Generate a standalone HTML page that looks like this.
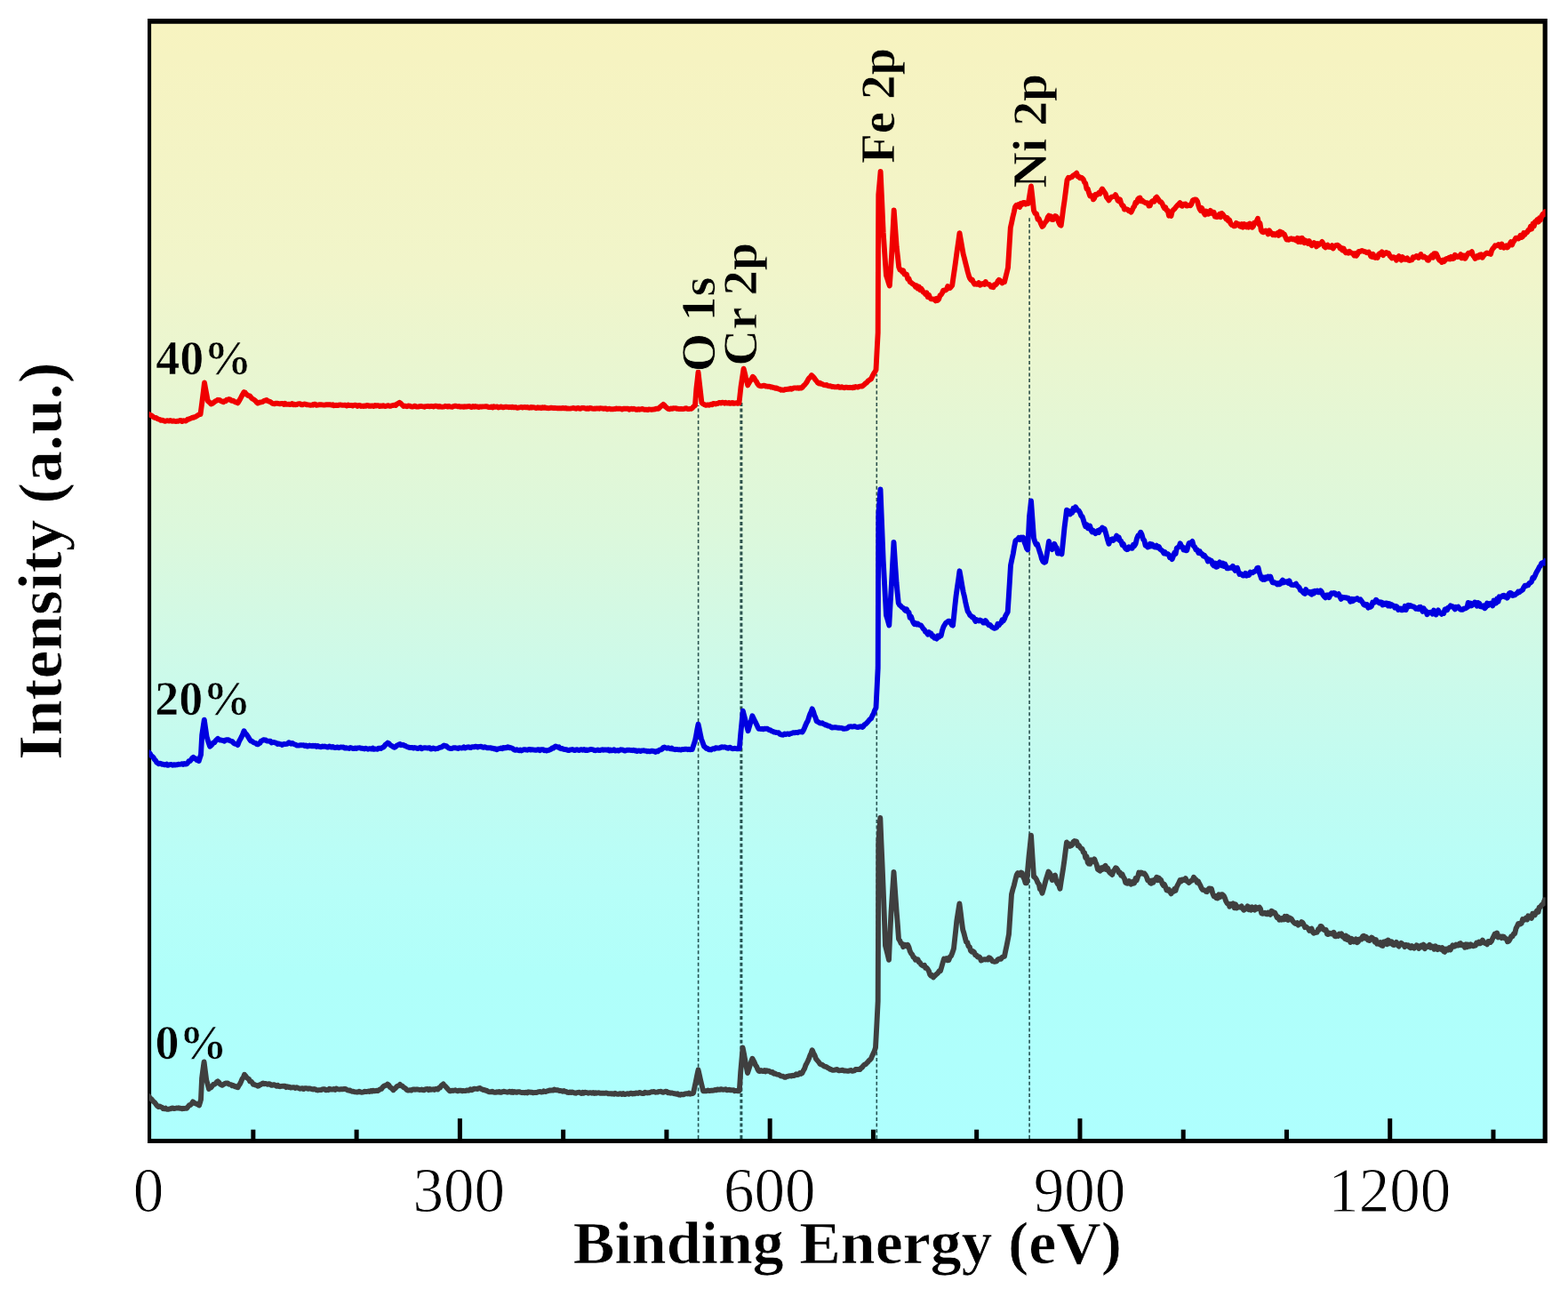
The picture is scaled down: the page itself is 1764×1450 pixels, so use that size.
<!DOCTYPE html>
<html lang="en"><head><meta charset="utf-8"><title>XPS survey spectra</title>
<style>
html,body{margin:0;padding:0;background:#fff;}
body{width:1764px;height:1450px;overflow:hidden;position:relative;}
svg{position:absolute;left:0;top:0;display:block;}
text{font-family:"Liberation Serif",serif;fill:#000;}
.b{font-weight:bold;}
</style></head><body>
<svg width="1764" height="1450" viewBox="0 0 1764 1450">
<defs>
<linearGradient id="bg" gradientUnits="userSpaceOnUse" x1="0" y1="26.85" x2="0" y2="1281.0">
<stop offset="0.0" stop-color="rgb(247,243,192)"/>
<stop offset="0.03" stop-color="rgb(246,243,193)"/>
<stop offset="0.22" stop-color="rgb(241,245,202)"/>
<stop offset="0.457" stop-color="rgb(220,248,220)"/>
<stop offset="0.585" stop-color="rgb(204,250,234)"/>
<stop offset="0.696" stop-color="rgb(190,252,243)"/>
<stop offset="0.775" stop-color="rgb(183,254,248)"/>
<stop offset="0.855" stop-color="rgb(176,255,250)"/>
<stop offset="1.0" stop-color="rgb(174,255,254)"/>
</linearGradient>
<clipPath id="cp"><rect x="167.6" y="26.85" width="1571.0" height="1254.15"/></clipPath>
</defs>
<rect x="0" y="0" width="1764" height="1450" fill="#fff"/>
<rect x="167.0" y="22.05" width="1572.8" height="1262.95" fill="url(#bg)"/>
<line x1="785.6" y1="1281.0" x2="785.6" y2="456" stroke="#002828" stroke-opacity="0.8" stroke-width="1.6" stroke-dasharray="4 2.7"/>
<line x1="833.9" y1="1281.0" x2="833.9" y2="453" stroke="#002828" stroke-opacity="0.8" stroke-width="3.0" stroke-dasharray="4 2.7"/>
<line x1="986.3" y1="1281.0" x2="986.3" y2="421" stroke="#002828" stroke-opacity="0.8" stroke-width="1.6" stroke-dasharray="4 2.7"/>
<line x1="1158.1" y1="1281.0" x2="1158.1" y2="244" stroke="#002828" stroke-opacity="0.8" stroke-width="1.6" stroke-dasharray="4 2.7"/>
<rect x="282.36" y="1270.70" width="5.0" height="11.30" fill="#000"/>
<rect x="398.62" y="1270.70" width="5.0" height="11.30" fill="#000"/>
<rect x="514.88" y="1258.20" width="5.0" height="23.80" fill="#000"/>
<rect x="631.14" y="1270.70" width="5.0" height="11.30" fill="#000"/>
<rect x="747.40" y="1270.70" width="5.0" height="11.30" fill="#000"/>
<rect x="863.66" y="1258.20" width="5.0" height="23.80" fill="#000"/>
<rect x="979.92" y="1270.70" width="5.0" height="11.30" fill="#000"/>
<rect x="1096.18" y="1270.70" width="5.0" height="11.30" fill="#000"/>
<rect x="1212.44" y="1258.20" width="5.0" height="23.80" fill="#000"/>
<rect x="1328.70" y="1270.70" width="5.0" height="11.30" fill="#000"/>
<rect x="1444.96" y="1270.70" width="5.0" height="11.30" fill="#000"/>
<rect x="1561.22" y="1258.20" width="5.0" height="23.80" fill="#000"/>
<rect x="1677.48" y="1270.70" width="5.0" height="11.30" fill="#000"/>
<path fill="#000" fill-rule="evenodd" d="M166.0,21.05H1740.8V1286.0H166.0Z M170.1,26.85V1281.0H1735.6V26.85Z"/>
<g clip-path="url(#cp)" fill="none" stroke-linejoin="round" stroke-linecap="butt">
<path d="M166.5,1232.0 L167.7,1233.4 L168.8,1235.3 L170.0,1236.0 L171.4,1237.6 L172.8,1239.3 L174.2,1240.4 L175.6,1242.4 L177.0,1244.1 L178.3,1245.0 L179.7,1244.5 L181.0,1245.4 L182.3,1245.6 L183.7,1247.2 L185.0,1247.4 L186.3,1246.6 L187.7,1247.9 L189.0,1247.9 L190.3,1247.4 L191.7,1247.3 L193.0,1246.6 L194.3,1246.4 L195.7,1247.1 L197.0,1246.8 L198.3,1246.5 L199.6,1246.6 L200.9,1246.3 L202.2,1246.8 L203.5,1246.8 L204.8,1247.3 L206.1,1246.8 L207.4,1247.0 L208.7,1246.7 L210.0,1246.8 L211.4,1245.1 L212.8,1243.4 L214.2,1242.9 L215.6,1241.4 L217.0,1239.4 L218.5,1240.6 L220.0,1241.4 L221.3,1241.8 L222.7,1242.5 L224.0,1243.5 L225.0,1240.3 L226.0,1237.0 L227.1,1213.0 L228.3,1203.7 L229.6,1194.5 L230.9,1204.8 L232.2,1214.9 L233.6,1219.8 L235.0,1224.9 L236.2,1223.6 L237.5,1223.3 L238.8,1221.5 L240.0,1220.0 L241.2,1219.8 L242.5,1218.9 L243.8,1217.2 L245.0,1216.3 L246.2,1217.4 L247.5,1219.4 L248.8,1220.2 L250.0,1220.8 L251.2,1220.0 L252.5,1219.2 L253.8,1218.5 L255.0,1218.7 L256.2,1218.5 L257.5,1219.6 L258.8,1219.9 L260.0,1220.1 L261.2,1221.3 L262.5,1221.0 L263.8,1222.2 L265.0,1222.0 L266.2,1222.9 L267.5,1223.3 L268.8,1220.8 L270.0,1219.3 L271.2,1216.7 L272.5,1213.6 L273.8,1212.0 L275.0,1208.8 L276.2,1210.2 L277.5,1212.2 L278.8,1213.2 L280.0,1213.8 L281.2,1216.4 L282.5,1216.6 L283.8,1218.0 L285.0,1219.9 L286.2,1220.0 L287.5,1220.6 L288.8,1220.8 L290.0,1221.8 L291.2,1221.4 L292.4,1220.2 L293.6,1220.0 L294.8,1219.0 L296.0,1218.5 L297.3,1219.4 L298.5,1218.9 L299.8,1219.3 L301.1,1219.9 L302.4,1219.2 L303.6,1219.4 L304.9,1220.7 L306.2,1220.8 L307.5,1220.2 L308.7,1220.3 L310.0,1221.1 L311.3,1221.8 L312.6,1220.9 L313.9,1222.1 L315.3,1222.2 L316.6,1221.9 L317.9,1221.8 L319.2,1221.6 L320.5,1221.6 L321.8,1223.1 L323.2,1222.2 L324.5,1223.0 L325.8,1222.6 L327.1,1223.5 L328.4,1223.3 L329.7,1223.1 L331.1,1223.1 L332.4,1224.0 L333.7,1223.2 L335.0,1223.8 L336.3,1224.2 L337.6,1224.7 L338.9,1224.5 L340.3,1224.1 L341.6,1225.1 L342.9,1224.2 L344.2,1224.1 L345.5,1224.5 L346.8,1224.9 L348.2,1224.4 L349.5,1224.7 L350.8,1225.1 L352.1,1225.5 L353.4,1225.0 L354.7,1225.4 L356.1,1226.2 L357.4,1226.5 L358.7,1226.1 L360.0,1226.1 L361.3,1226.1 L362.6,1225.4 L363.9,1225.2 L365.2,1225.1 L366.5,1226.3 L367.9,1225.9 L369.2,1226.2 L370.5,1224.8 L371.8,1225.6 L373.1,1225.4 L374.4,1225.6 L375.7,1225.0 L377.0,1225.9 L378.3,1224.5 L379.6,1225.1 L381.0,1225.3 L382.3,1225.5 L383.6,1225.2 L384.9,1225.1 L386.2,1225.2 L387.5,1224.9 L388.8,1224.9 L390.0,1225.7 L391.2,1226.4 L392.5,1226.7 L393.8,1226.5 L395.0,1227.4 L396.2,1227.9 L397.5,1227.8 L398.8,1228.3 L400.0,1228.4 L401.3,1228.5 L402.6,1228.5 L403.9,1227.7 L405.3,1228.4 L406.6,1228.8 L407.9,1228.6 L409.2,1228.3 L410.5,1227.7 L411.8,1228.1 L413.2,1227.8 L414.5,1227.5 L415.8,1228.0 L417.1,1226.9 L418.4,1227.7 L419.7,1226.7 L421.1,1227.4 L422.4,1227.1 L423.7,1226.7 L425.0,1227.1 L426.4,1226.1 L427.8,1225.3 L429.1,1224.9 L430.5,1223.0 L431.9,1221.8 L433.2,1221.2 L434.6,1220.9 L436.0,1219.5 L437.3,1220.5 L438.6,1222.8 L439.9,1223.7 L441.2,1224.7 L442.5,1226.2 L443.8,1224.7 L445.0,1224.1 L446.2,1222.4 L447.5,1221.7 L448.8,1221.2 L450.0,1219.9 L451.2,1221.3 L452.5,1221.6 L453.8,1223.0 L455.0,1223.6 L456.2,1224.4 L457.5,1226.0 L458.8,1226.5 L460.1,1226.5 L461.4,1226.2 L462.7,1226.6 L464.0,1225.6 L465.3,1225.4 L466.6,1225.8 L467.9,1225.5 L469.2,1225.4 L470.5,1225.7 L471.8,1226.0 L473.1,1225.8 L474.4,1225.5 L475.6,1226.2 L476.9,1226.4 L478.2,1225.6 L479.5,1225.1 L480.8,1225.0 L482.1,1226.2 L483.4,1225.0 L484.7,1225.9 L486.0,1225.7 L487.3,1225.3 L488.6,1226.0 L489.9,1224.9 L491.2,1225.0 L492.5,1225.5 L493.7,1223.7 L495.0,1223.6 L496.2,1221.7 L497.5,1220.4 L498.7,1219.4 L499.9,1221.1 L501.1,1222.1 L502.4,1223.5 L503.6,1224.8 L504.8,1226.2 L506.0,1227.3 L507.3,1227.3 L508.5,1226.6 L509.8,1227.0 L511.1,1226.6 L512.3,1226.3 L513.6,1227.0 L514.9,1227.3 L516.2,1226.6 L517.4,1226.7 L518.7,1226.8 L520.0,1227.3 L521.2,1227.0 L522.5,1227.1 L523.8,1227.1 L525.2,1226.4 L526.5,1226.7 L527.9,1226.6 L529.2,1225.3 L530.6,1226.2 L531.9,1225.7 L533.3,1224.6 L534.6,1224.9 L536.0,1224.9 L537.3,1225.0 L538.7,1224.1 L540.0,1224.0 L541.2,1225.0 L542.5,1225.4 L543.8,1226.1 L545.0,1225.9 L546.2,1226.7 L547.5,1226.6 L548.8,1227.8 L550.0,1228.2 L551.3,1228.2 L552.6,1228.3 L553.9,1227.7 L555.2,1228.6 L556.5,1228.8 L557.8,1228.8 L559.1,1228.2 L560.4,1228.6 L561.7,1227.9 L563.0,1228.8 L564.3,1228.7 L565.7,1228.0 L567.0,1227.7 L568.3,1228.2 L569.6,1228.4 L570.9,1228.7 L572.2,1228.4 L573.5,1227.7 L574.8,1228.8 L576.1,1227.8 L577.4,1228.9 L578.7,1228.0 L580.0,1228.4 L581.3,1228.9 L582.6,1228.1 L583.9,1228.1 L585.2,1228.6 L586.6,1229.0 L587.9,1229.2 L589.2,1229.0 L590.5,1229.4 L591.8,1228.8 L593.1,1229.4 L594.4,1228.3 L595.8,1228.5 L597.1,1228.9 L598.4,1228.6 L599.7,1229.3 L601.0,1229.1 L602.3,1228.9 L603.7,1229.1 L605.0,1228.6 L606.3,1228.1 L607.7,1228.0 L609.0,1228.5 L610.3,1228.4 L611.7,1227.3 L613.0,1228.0 L614.3,1228.0 L615.7,1227.2 L617.0,1227.1 L618.3,1226.4 L619.7,1226.7 L621.0,1226.5 L622.3,1226.5 L623.7,1225.5 L625.0,1226.3 L626.3,1226.3 L627.7,1226.3 L629.0,1227.1 L630.4,1227.0 L631.7,1227.1 L633.1,1227.7 L634.4,1227.0 L635.8,1227.9 L637.1,1228.0 L638.5,1228.9 L639.8,1229.1 L641.2,1228.4 L642.5,1229.0 L643.8,1228.5 L645.1,1229.0 L646.4,1229.5 L647.7,1229.7 L649.0,1229.1 L650.3,1228.9 L651.6,1228.8 L652.9,1229.4 L654.2,1229.9 L655.5,1228.8 L656.8,1229.7 L658.1,1228.7 L659.4,1229.0 L660.7,1229.1 L662.0,1229.7 L663.3,1229.3 L664.6,1229.3 L665.9,1229.7 L667.2,1229.0 L668.5,1229.9 L669.8,1229.1 L671.1,1229.7 L672.4,1229.4 L673.8,1229.3 L675.1,1229.8 L676.4,1229.7 L677.7,1229.7 L679.0,1229.8 L680.3,1229.9 L681.6,1229.5 L682.9,1229.6 L684.2,1230.2 L685.5,1230.2 L686.8,1230.1 L688.1,1230.6 L689.4,1230.3 L690.7,1230.7 L692.0,1229.8 L693.3,1230.6 L694.6,1230.7 L695.9,1230.8 L697.2,1230.1 L698.5,1230.1 L699.8,1231.0 L701.1,1230.0 L702.4,1231.1 L703.7,1231.0 L705.0,1230.3 L706.3,1230.1 L707.6,1230.7 L708.9,1229.9 L710.2,1229.6 L711.4,1230.6 L712.7,1229.9 L714.0,1230.4 L715.3,1229.4 L716.6,1229.7 L717.9,1230.0 L719.2,1229.0 L720.5,1229.2 L721.7,1229.8 L723.0,1230.0 L724.3,1230.0 L725.6,1228.7 L726.9,1229.2 L728.2,1229.5 L729.5,1229.1 L730.8,1229.2 L732.0,1228.5 L733.3,1228.2 L734.6,1228.2 L735.9,1228.0 L737.2,1228.7 L738.5,1228.6 L739.8,1228.6 L741.1,1227.9 L742.3,1227.9 L743.6,1227.8 L744.9,1228.6 L746.2,1228.8 L747.5,1228.2 L748.8,1227.7 L750.2,1227.9 L751.5,1229.4 L752.9,1229.0 L754.2,1229.7 L755.6,1229.4 L756.9,1229.8 L758.3,1230.2 L759.6,1230.3 L761.0,1230.8 L762.3,1230.3 L763.7,1231.5 L765.0,1231.7 L766.2,1230.9 L767.5,1231.1 L768.8,1231.4 L770.0,1230.8 L771.2,1230.3 L772.5,1230.1 L773.8,1230.5 L775.0,1229.6 L776.2,1230.7 L777.5,1230.4 L778.8,1230.1 L780.0,1229.7 L781.4,1223.2 L782.8,1216.6 L784.1,1210.1 L785.5,1203.5 L786.9,1209.5 L788.2,1215.3 L789.6,1221.1 L791.0,1227.2 L792.3,1227.3 L793.7,1227.2 L795.0,1227.2 L796.3,1226.5 L797.7,1227.1 L799.0,1227.0 L800.3,1226.7 L801.7,1226.7 L803.0,1226.6 L804.3,1226.0 L805.7,1226.4 L807.0,1225.4 L808.3,1225.7 L809.7,1225.8 L811.0,1225.1 L812.3,1225.5 L813.7,1225.8 L815.0,1225.6 L816.3,1225.2 L817.6,1226.4 L818.9,1226.1 L820.2,1225.7 L821.5,1226.3 L822.8,1226.3 L824.0,1226.4 L825.3,1226.3 L826.6,1227.2 L827.9,1226.9 L829.2,1227.1 L830.5,1227.3 L831.8,1227.1 L833.2,1205.9 L834.4,1192.3 L835.6,1178.5 L837.0,1185.6 L838.3,1192.7 L839.6,1199.7 L841.0,1207.0 L842.4,1202.8 L843.7,1198.6 L845.0,1194.6 L846.4,1190.7 L847.6,1192.9 L848.8,1195.2 L850.0,1198.3 L851.3,1200.1 L852.5,1203.0 L853.7,1204.8 L855.0,1205.1 L856.2,1204.1 L857.5,1204.8 L858.7,1205.1 L860.0,1204.1 L861.2,1205.3 L862.5,1204.2 L863.7,1204.7 L865.0,1204.7 L866.4,1205.7 L867.7,1206.3 L869.0,1206.0 L870.4,1207.8 L871.7,1207.5 L873.0,1208.1 L874.4,1208.7 L875.7,1208.9 L877.0,1209.3 L878.4,1210.3 L879.7,1210.6 L881.0,1210.7 L882.4,1211.8 L883.7,1211.9 L885.0,1211.0 L886.4,1210.9 L887.7,1210.3 L889.1,1210.1 L890.4,1210.6 L891.8,1209.7 L893.1,1210.1 L894.4,1209.5 L895.8,1208.2 L897.1,1209.1 L898.5,1208.7 L899.8,1207.1 L901.2,1207.9 L902.5,1207.0 L903.8,1204.2 L905.1,1202.1 L906.4,1198.2 L907.7,1195.8 L909.0,1193.2 L910.2,1190.3 L911.4,1187.0 L912.5,1184.7 L913.7,1181.2 L915.1,1184.5 L916.6,1187.1 L918.0,1191.1 L919.5,1192.9 L921.0,1194.6 L922.5,1196.7 L923.8,1197.6 L925.0,1197.7 L926.2,1198.7 L927.5,1199.6 L928.8,1199.9 L930.0,1200.3 L931.2,1201.3 L932.5,1201.7 L933.8,1202.8 L935.0,1203.0 L936.3,1203.8 L937.7,1203.9 L939.0,1203.7 L940.3,1203.1 L941.7,1203.0 L943.0,1204.2 L944.3,1204.2 L945.7,1204.1 L947.0,1203.8 L948.3,1203.8 L949.7,1204.5 L951.0,1204.5 L952.3,1204.6 L953.7,1204.8 L955.0,1204.8 L956.2,1204.1 L957.5,1204.0 L958.8,1204.9 L960.0,1204.6 L961.2,1204.4 L962.5,1203.0 L963.8,1202.9 L965.0,1203.0 L966.2,1203.1 L967.5,1203.1 L968.8,1201.2 L970.0,1200.7 L971.2,1198.8 L972.5,1197.6 L973.8,1197.2 L975.0,1195.9 L976.2,1194.8 L977.5,1193.2 L978.8,1192.2 L980.0,1190.8 L981.2,1187.7 L982.5,1185.1 L983.8,1182.1 L985.0,1178.4 L986.4,1152.0 L987.7,1126.1 L988.0,1051.0 L988.3,947.1 L989.3,933.3 L990.3,920.0 L991.4,946.8 L992.6,974.2 L993.7,1001.0 L994.9,1032.4 L996.0,1063.7 L997.3,1068.8 L998.7,1074.3 L1000.0,1079.8 L1001.2,1053.2 L1002.5,1026.0 L1004.0,1003.4 L1005.5,980.9 L1007.1,1003.8 L1008.7,1025.9 L1009.9,1040.7 L1011.0,1056.1 L1012.3,1058.1 L1013.6,1061.1 L1014.9,1061.7 L1016.2,1065.1 L1017.5,1062.7 L1018.7,1063.0 L1020.0,1064.4 L1021.2,1062.8 L1022.5,1065.5 L1023.7,1069.9 L1025.0,1072.5 L1026.2,1073.6 L1027.5,1076.6 L1028.8,1077.5 L1030.0,1079.8 L1031.2,1079.3 L1032.5,1079.2 L1033.8,1082.4 L1035.0,1082.8 L1036.2,1085.0 L1037.5,1086.0 L1038.8,1086.7 L1040.0,1085.9 L1041.2,1088.9 L1042.5,1088.7 L1043.8,1090.4 L1045.0,1092.5 L1046.2,1096.3 L1047.5,1097.8 L1048.8,1097.0 L1050.0,1099.5 L1051.3,1097.9 L1052.7,1096.7 L1054.0,1095.5 L1055.3,1094.3 L1056.7,1092.3 L1058.0,1092.2 L1059.3,1087.7 L1060.7,1082.8 L1062.0,1078.5 L1063.3,1078.9 L1064.7,1078.1 L1066.0,1080.4 L1067.3,1080.2 L1068.7,1076.5 L1070.0,1075.3 L1071.5,1071.6 L1073.0,1067.0 L1074.1,1056.7 L1075.2,1046.7 L1076.3,1036.0 L1077.8,1026.5 L1079.4,1016.4 L1080.7,1026.4 L1081.9,1036.4 L1083.2,1045.9 L1084.5,1050.0 L1085.7,1054.9 L1087.0,1059.6 L1088.2,1059.9 L1089.5,1064.5 L1090.8,1065.1 L1092.0,1069.4 L1093.3,1070.7 L1094.6,1070.1 L1095.9,1071.1 L1097.2,1074.3 L1098.5,1074.4 L1099.8,1076.5 L1101.1,1076.1 L1102.4,1076.9 L1103.7,1080.5 L1105.0,1080.0 L1106.2,1079.3 L1107.5,1079.1 L1108.7,1079.5 L1110.0,1079.1 L1111.2,1079.5 L1112.5,1077.2 L1113.7,1077.7 L1115.0,1079.1 L1116.2,1081.1 L1117.5,1081.5 L1118.8,1081.8 L1120.0,1081.5 L1121.2,1081.3 L1122.5,1079.5 L1123.8,1078.6 L1125.0,1078.8 L1126.2,1078.7 L1127.5,1076.7 L1128.8,1076.2 L1130.0,1075.9 L1131.2,1069.9 L1132.5,1063.9 L1133.8,1057.2 L1135.0,1050.9 L1136.5,1028.2 L1138.0,1006.0 L1139.4,1000.5 L1140.8,995.8 L1142.3,989.6 L1143.7,984.3 L1145.0,982.1 L1146.2,984.2 L1147.5,984.3 L1148.7,981.5 L1150.0,982.2 L1151.2,986.5 L1152.5,989.4 L1153.7,993.4 L1155.0,993.3 L1156.2,978.1 L1157.5,963.4 L1158.8,951.3 L1160.0,939.6 L1161.5,963.1 L1163.0,986.2 L1164.5,987.1 L1166.0,989.4 L1167.5,993.0 L1168.8,994.6 L1170.0,1000.4 L1171.2,1000.9 L1172.5,1004.7 L1173.9,1000.0 L1175.3,994.7 L1176.7,989.5 L1178.1,985.1 L1179.5,980.6 L1180.9,982.0 L1182.3,986.1 L1183.7,990.0 L1184.8,987.7 L1185.9,985.2 L1187.0,984.6 L1188.4,991.4 L1189.8,994.2 L1191.1,995.6 L1192.5,999.7 L1193.7,991.8 L1195.0,983.7 L1196.2,976.2 L1197.5,967.0 L1198.7,957.4 L1200.0,947.5 L1201.2,949.0 L1202.5,949.1 L1203.8,951.9 L1205.0,951.4 L1206.2,950.5 L1207.5,947.1 L1208.8,946.0 L1210.0,946.3 L1211.2,946.8 L1212.5,951.3 L1213.7,950.9 L1215.0,952.9 L1216.2,954.5 L1217.5,954.8 L1218.7,958.7 L1220.0,959.2 L1221.2,964.9 L1222.5,963.4 L1223.7,970.2 L1225.0,971.7 L1226.2,971.9 L1227.5,967.3 L1228.7,967.5 L1230.0,969.1 L1231.2,966.4 L1232.5,969.9 L1233.7,972.7 L1235.0,978.0 L1236.2,978.7 L1237.5,979.7 L1238.7,976.2 L1240.0,978.1 L1241.2,975.5 L1242.5,977.5 L1243.7,973.8 L1245.0,978.2 L1246.2,976.7 L1247.5,980.2 L1248.7,981.9 L1250.0,982.8 L1251.2,984.0 L1252.5,980.0 L1253.7,978.7 L1255.0,976.3 L1256.2,976.8 L1257.5,978.7 L1258.7,981.6 L1260.0,981.4 L1261.2,984.7 L1262.5,983.3 L1263.7,986.4 L1265.0,988.4 L1266.2,992.7 L1267.5,993.6 L1268.7,993.8 L1270.0,991.0 L1271.2,992.9 L1272.5,994.6 L1273.7,992.1 L1275.0,993.8 L1276.2,993.4 L1277.5,988.1 L1278.7,990.4 L1280.0,986.6 L1281.2,981.6 L1282.5,983.0 L1283.7,981.4 L1285.0,982.0 L1286.2,983.0 L1287.5,982.6 L1288.7,984.3 L1290.0,986.6 L1291.2,990.2 L1292.5,990.1 L1293.7,992.9 L1295.0,993.7 L1296.2,990.5 L1297.5,992.7 L1298.7,989.6 L1300.0,989.4 L1301.2,986.8 L1302.5,990.2 L1303.7,987.6 L1305.0,989.1 L1306.2,990.1 L1307.5,993.9 L1308.8,996.1 L1310.0,995.0 L1311.2,997.7 L1312.5,1001.5 L1313.8,1001.8 L1315.0,1000.7 L1316.2,1003.0 L1317.5,1005.3 L1318.8,1002.8 L1320.0,1003.0 L1321.2,1000.0 L1322.5,1001.9 L1323.8,997.7 L1325.0,995.3 L1326.2,993.1 L1327.5,990.1 L1328.8,991.4 L1330.0,989.4 L1331.2,989.4 L1332.5,990.0 L1333.8,988.2 L1335.0,990.8 L1336.3,991.8 L1337.6,992.9 L1338.9,991.6 L1340.3,990.7 L1341.6,990.1 L1342.9,986.8 L1344.2,988.6 L1345.5,989.6 L1346.7,992.7 L1348.0,991.3 L1349.2,994.1 L1350.5,996.3 L1351.7,999.2 L1353.0,1000.8 L1354.2,1001.1 L1355.5,1001.3 L1356.7,1002.9 L1357.9,1003.2 L1359.1,1000.9 L1360.3,999.4 L1361.5,999.7 L1362.9,999.8 L1364.2,1004.8 L1365.6,1008.2 L1366.9,1007.8 L1368.3,1010.1 L1369.7,1010.5 L1371.2,1006.3 L1372.6,1009.2 L1374.0,1006.3 L1375.3,1006.3 L1376.7,1007.6 L1378.0,1010.3 L1379.3,1013.9 L1380.7,1016.4 L1382.0,1016.8 L1383.3,1019.7 L1384.7,1017.1 L1386.0,1018.0 L1387.3,1016.5 L1388.7,1021.2 L1390.0,1017.2 L1391.3,1021.5 L1392.7,1020.0 L1394.0,1020.4 L1395.3,1020.7 L1396.7,1019.5 L1398.0,1021.9 L1399.3,1023.7 L1400.7,1022.8 L1402.0,1021.8 L1403.4,1019.4 L1404.7,1023.1 L1406.1,1020.5 L1407.4,1023.7 L1408.8,1020.4 L1410.1,1022.2 L1411.5,1023.6 L1412.8,1020.4 L1414.2,1022.4 L1415.5,1021.3 L1416.8,1020.6 L1418.0,1022.2 L1419.2,1027.2 L1420.5,1027.8 L1421.8,1027.2 L1423.0,1026.8 L1424.2,1028.1 L1425.5,1028.4 L1426.8,1026.6 L1428.0,1027.7 L1429.2,1028.8 L1430.5,1024.7 L1431.8,1025.6 L1433.0,1027.1 L1434.2,1026.8 L1435.5,1029.6 L1436.7,1032.1 L1438.0,1031.5 L1439.2,1034.7 L1440.5,1033.2 L1441.7,1034.5 L1443.0,1033.0 L1444.2,1034.3 L1445.5,1030.9 L1446.7,1033.9 L1448.0,1030.9 L1449.2,1034.9 L1450.5,1032.4 L1451.8,1033.1 L1453.0,1033.8 L1454.2,1036.0 L1455.5,1037.4 L1456.8,1038.8 L1458.0,1039.0 L1459.2,1038.2 L1460.5,1040.6 L1461.7,1039.5 L1463.0,1039.3 L1464.2,1037.0 L1465.5,1038.1 L1466.7,1040.1 L1468.0,1043.1 L1469.2,1042.4 L1470.5,1043.6 L1471.7,1044.4 L1473.0,1046.8 L1474.2,1045.5 L1475.5,1044.5 L1476.8,1048.4 L1478.0,1049.7 L1479.2,1049.3 L1480.5,1048.7 L1481.7,1048.7 L1483.0,1045.3 L1484.2,1045.7 L1485.5,1041.9 L1486.7,1042.2 L1488.0,1044.1 L1489.2,1045.7 L1490.5,1046.5 L1491.7,1046.0 L1493.0,1050.7 L1494.2,1051.1 L1495.5,1049.6 L1496.7,1050.0 L1498.0,1050.5 L1499.2,1049.6 L1500.5,1048.8 L1501.7,1053.1 L1503.0,1053.4 L1504.2,1051.9 L1505.5,1052.9 L1506.7,1050.6 L1508.0,1051.6 L1509.2,1050.3 L1510.5,1053.7 L1511.8,1053.5 L1513.0,1056.0 L1514.2,1052.5 L1515.5,1056.9 L1516.8,1054.1 L1518.0,1057.0 L1519.2,1059.9 L1520.5,1055.7 L1521.8,1057.6 L1523.0,1059.3 L1524.2,1058.3 L1525.5,1056.4 L1526.8,1060.3 L1528.0,1059.3 L1529.2,1056.7 L1530.5,1056.0 L1531.8,1056.6 L1533.0,1053.3 L1534.2,1052.8 L1535.5,1055.5 L1536.8,1053.9 L1538.0,1055.1 L1539.2,1057.6 L1540.5,1058.1 L1541.8,1055.7 L1543.0,1054.5 L1544.2,1055.2 L1545.5,1057.4 L1546.7,1059.7 L1548.0,1057.2 L1549.2,1061.7 L1550.5,1060.3 L1551.7,1062.1 L1553.0,1060.2 L1554.2,1063.6 L1555.5,1063.9 L1556.7,1059.5 L1558.0,1061.5 L1559.2,1058.9 L1560.5,1062.2 L1561.7,1057.6 L1563.0,1058.9 L1564.3,1061.2 L1565.7,1059.4 L1567.0,1062.8 L1568.3,1063.0 L1569.7,1062.5 L1571.0,1059.8 L1572.3,1063.1 L1573.7,1064.6 L1575.0,1062.4 L1576.3,1060.8 L1577.7,1061.9 L1579.0,1062.7 L1580.3,1065.1 L1581.7,1062.8 L1583.0,1064.0 L1584.3,1063.3 L1585.6,1065.6 L1587.0,1066.2 L1588.3,1064.0 L1589.6,1065.5 L1590.9,1066.7 L1592.3,1065.2 L1593.6,1063.3 L1594.9,1063.7 L1596.2,1066.9 L1597.6,1065.6 L1598.9,1063.5 L1600.2,1065.4 L1601.5,1062.6 L1602.9,1067.2 L1604.2,1064.4 L1605.5,1064.8 L1606.8,1065.1 L1608.2,1062.8 L1609.5,1065.9 L1610.8,1064.5 L1612.1,1064.6 L1613.5,1067.7 L1614.8,1064.2 L1616.1,1065.5 L1617.4,1068.2 L1618.8,1065.8 L1620.1,1066.2 L1621.4,1067.8 L1622.7,1066.2 L1624.0,1070.1 L1625.4,1070.8 L1626.7,1067.5 L1628.0,1067.7 L1629.2,1068.6 L1630.5,1066.2 L1631.7,1068.4 L1633.0,1065.6 L1634.2,1063.4 L1635.5,1064.8 L1636.7,1064.6 L1638.0,1062.6 L1639.2,1063.6 L1640.5,1063.6 L1641.7,1061.7 L1643.0,1061.0 L1644.2,1063.4 L1645.5,1063.2 L1646.8,1063.0 L1648.0,1065.8 L1649.2,1062.4 L1650.5,1065.3 L1651.8,1062.6 L1653.2,1064.5 L1654.5,1062.3 L1655.8,1063.0 L1657.2,1064.3 L1658.5,1064.0 L1659.8,1063.7 L1661.2,1060.5 L1662.5,1061.4 L1663.9,1059.7 L1665.2,1061.2 L1666.5,1060.4 L1667.9,1057.6 L1669.2,1059.9 L1670.5,1061.0 L1671.7,1060.5 L1673.0,1062.3 L1674.2,1058.9 L1675.5,1059.0 L1676.7,1060.0 L1678.0,1058.5 L1679.2,1055.7 L1680.5,1053.2 L1681.7,1050.5 L1683.0,1053.0 L1684.2,1049.6 L1685.5,1054.4 L1686.7,1053.1 L1688.0,1053.4 L1689.2,1055.1 L1690.5,1053.5 L1691.9,1053.6 L1693.2,1055.9 L1694.6,1055.9 L1696.0,1059.3 L1697.4,1058.6 L1698.8,1056.4 L1700.2,1053.3 L1701.6,1053.2 L1703.0,1050.1 L1704.2,1050.2 L1705.5,1044.3 L1706.7,1042.2 L1708.0,1039.2 L1709.2,1038.9 L1710.5,1039.5 L1711.7,1038.6 L1713.0,1034.1 L1714.2,1035.2 L1715.5,1034.2 L1716.7,1032.7 L1718.0,1034.5 L1719.2,1030.3 L1720.5,1031.9 L1721.8,1032.5 L1723.0,1032.9 L1724.2,1027.7 L1725.5,1028.5 L1726.8,1029.3 L1728.0,1026.2 L1729.2,1024.3 L1730.5,1026.0 L1731.7,1020.5 L1733.0,1020.2 L1734.2,1018.1 L1735.5,1017.2 L1736.7,1015.1 L1737.8,1012.2 L1738.9,1015.7 L1740.0,1011.8" stroke="#3f3f3f" stroke-width="5.9"/>
<path d="M166.5,845.8 L167.7,846.5 L168.8,847.7 L170.0,850.0 L171.2,850.7 L172.5,852.1 L173.8,854.3 L175.0,855.4 L176.2,857.6 L177.5,858.3 L178.8,859.3 L180.0,858.6 L181.2,859.2 L182.5,859.9 L183.8,859.8 L185.0,860.3 L186.2,860.2 L187.5,859.5 L188.8,860.8 L190.0,860.6 L191.3,860.1 L192.7,859.9 L194.0,860.7 L195.3,860.2 L196.7,860.6 L198.0,860.3 L199.3,860.4 L200.7,859.8 L202.0,859.9 L203.3,859.7 L204.7,859.1 L206.0,859.9 L207.3,858.9 L208.7,859.5 L210.0,859.3 L211.2,858.1 L212.5,856.2 L213.8,856.1 L215.0,854.7 L216.2,852.9 L217.5,851.9 L218.7,853.0 L220.0,853.1 L221.2,855.1 L222.5,855.2 L223.7,856.0 L224.8,852.5 L226.0,849.0 L227.2,827.0 L228.5,818.3 L229.8,809.7 L231.2,819.4 L232.6,828.9 L233.8,832.7 L235.0,836.2 L236.2,839.7 L237.5,838.7 L238.7,837.3 L240.0,835.4 L241.2,835.4 L242.5,833.3 L243.7,832.1 L245.0,830.9 L246.2,832.1 L247.5,832.6 L248.7,832.5 L250.0,832.9 L251.2,833.3 L252.4,833.7 L253.7,832.4 L254.9,832.6 L256.2,832.1 L257.5,832.6 L258.7,833.3 L260.0,833.7 L261.2,834.1 L262.5,835.5 L263.7,836.5 L265.0,836.9 L266.2,836.9 L267.5,838.1 L268.9,834.2 L270.3,831.6 L271.7,829.0 L273.1,825.9 L274.5,822.2 L275.8,824.6 L277.2,826.0 L278.5,827.9 L279.8,829.9 L281.2,832.3 L282.5,833.6 L283.8,834.1 L285.0,835.1 L286.2,835.6 L287.5,835.8 L288.8,837.0 L290.0,837.4 L291.2,836.4 L292.5,835.8 L293.7,833.5 L295.0,833.2 L296.2,832.3 L297.5,832.3 L298.9,832.5 L300.2,833.6 L301.5,833.6 L302.9,833.7 L304.2,833.7 L305.5,835.4 L306.9,834.9 L308.2,834.9 L309.5,835.4 L310.8,835.8 L312.2,837.1 L313.5,836.5 L314.8,837.0 L316.2,837.1 L317.5,838.0 L318.8,837.2 L320.0,836.9 L321.2,837.1 L322.5,836.9 L323.8,836.4 L325.0,835.2 L326.2,835.7 L327.5,836.7 L328.8,836.0 L330.0,836.6 L331.2,837.4 L332.5,837.6 L333.8,838.5 L335.0,838.6 L336.3,838.5 L337.6,838.3 L338.9,838.3 L340.3,838.4 L341.6,838.2 L342.9,839.1 L344.2,838.5 L345.5,839.6 L346.8,839.3 L348.2,838.5 L349.5,839.2 L350.8,839.4 L352.1,838.7 L353.4,839.4 L354.7,838.8 L356.1,839.9 L357.4,838.9 L358.7,839.8 L360.0,840.0 L361.3,840.3 L362.6,839.5 L363.9,839.9 L365.3,839.5 L366.6,839.8 L367.9,840.6 L369.2,840.6 L370.5,839.5 L371.8,840.1 L373.2,840.6 L374.5,840.0 L375.8,840.9 L377.1,841.1 L378.4,840.7 L379.7,840.5 L381.1,841.2 L382.4,840.8 L383.7,840.4 L385.0,840.6 L386.3,840.5 L387.6,841.6 L388.9,841.2 L390.3,841.5 L391.6,841.7 L392.9,842.0 L394.2,841.0 L395.5,841.3 L396.8,842.1 L398.2,842.0 L399.5,841.5 L400.8,842.0 L402.1,841.4 L403.4,841.4 L404.7,841.3 L406.1,841.8 L407.4,841.7 L408.7,842.2 L410.0,842.5 L411.3,841.7 L412.7,842.3 L414.0,842.7 L415.3,842.3 L416.7,842.2 L418.0,842.6 L419.4,841.5 L420.7,842.8 L422.0,842.5 L423.4,842.6 L424.7,842.7 L426.0,841.6 L427.4,841.6 L428.7,842.0 L429.9,841.1 L431.2,840.6 L432.4,839.4 L433.7,837.6 L434.9,836.8 L436.2,835.6 L437.4,836.1 L438.7,837.8 L439.9,838.6 L441.2,839.2 L442.4,840.2 L443.7,840.7 L445.0,840.1 L446.2,838.9 L447.5,838.2 L448.7,837.5 L450.0,837.0 L451.2,838.3 L452.5,837.9 L453.8,838.0 L455.0,838.8 L456.2,839.0 L457.5,840.0 L458.8,840.3 L460.0,840.8 L461.3,841.0 L462.6,841.0 L463.9,840.9 L465.2,841.6 L466.5,841.0 L467.8,841.3 L469.1,841.9 L470.4,842.0 L471.7,841.3 L473.0,840.8 L474.3,842.2 L475.6,841.6 L476.9,841.2 L478.2,841.2 L479.5,841.4 L480.8,841.5 L482.1,841.3 L483.4,841.2 L484.7,842.6 L486.0,842.4 L487.3,841.5 L488.6,842.0 L489.9,842.5 L491.2,842.2 L492.5,842.0 L493.9,841.2 L495.3,840.6 L496.7,840.6 L498.1,839.4 L499.5,838.5 L500.8,839.3 L502.2,839.1 L503.5,840.6 L504.8,841.4 L506.2,841.8 L507.5,842.1 L508.8,841.8 L510.1,841.3 L511.4,841.3 L512.7,841.3 L514.0,841.6 L515.3,842.0 L516.6,841.1 L517.9,841.4 L519.2,841.5 L520.5,841.4 L521.8,840.4 L523.1,841.6 L524.4,841.0 L525.7,840.5 L527.0,840.3 L528.3,840.9 L529.6,841.1 L530.9,840.2 L532.2,840.2 L533.5,840.3 L534.8,839.6 L536.1,839.9 L537.4,840.5 L538.7,839.9 L540.0,839.9 L541.3,839.6 L542.7,840.6 L544.0,840.7 L545.3,840.1 L546.7,840.7 L548.0,841.2 L549.3,841.2 L550.7,841.4 L552.0,841.1 L553.3,841.8 L554.7,841.7 L556.0,842.5 L557.3,842.1 L558.7,843.2 L560.0,842.7 L561.2,842.1 L562.5,842.1 L563.8,841.5 L565.0,842.2 L566.2,841.0 L567.5,841.5 L568.8,840.9 L570.0,841.3 L571.2,840.2 L572.5,840.6 L573.8,841.4 L575.0,841.3 L576.2,841.7 L577.5,842.7 L578.8,843.6 L580.0,843.9 L581.3,843.3 L582.6,843.9 L583.9,844.3 L585.2,843.4 L586.6,844.5 L587.9,843.8 L589.2,843.3 L590.5,843.2 L591.8,843.5 L593.1,843.7 L594.4,843.2 L595.8,843.0 L597.1,843.6 L598.4,843.2 L599.7,843.5 L601.0,843.5 L602.3,843.8 L603.5,843.7 L604.8,843.2 L606.1,843.2 L607.3,844.2 L608.6,843.1 L609.9,843.2 L611.2,843.2 L612.4,844.3 L613.7,843.9 L615.0,844.5 L616.2,844.1 L617.5,843.9 L618.8,843.2 L620.0,842.9 L621.2,841.5 L622.5,841.6 L623.8,840.3 L625.0,839.4 L626.2,839.9 L627.5,840.5 L628.8,840.3 L630.0,841.8 L631.2,842.2 L632.5,842.0 L633.8,842.9 L635.0,843.0 L636.2,843.2 L637.5,843.3 L638.8,844.1 L640.1,844.1 L641.4,843.5 L642.7,843.4 L644.0,843.0 L645.3,843.7 L646.6,844.1 L647.9,843.4 L649.2,843.3 L650.5,843.8 L651.8,844.0 L653.1,843.2 L654.4,843.3 L655.7,843.8 L657.0,843.0 L658.3,844.1 L659.6,843.4 L660.9,844.1 L662.2,843.6 L663.5,843.2 L664.8,843.0 L666.1,843.2 L667.4,843.4 L668.7,844.1 L670.0,844.2 L671.2,843.9 L672.5,843.5 L673.8,844.0 L675.1,844.1 L676.4,843.6 L677.7,843.2 L679.0,843.8 L680.3,843.4 L681.6,843.4 L682.9,843.7 L684.2,843.3 L685.5,844.4 L686.8,843.6 L688.1,844.4 L689.4,844.2 L690.7,843.2 L692.0,844.5 L693.3,844.3 L694.6,844.0 L695.9,844.5 L697.2,843.9 L698.5,843.3 L699.8,843.5 L701.1,843.7 L702.4,844.5 L703.7,844.5 L705.0,843.8 L706.3,843.8 L707.6,843.6 L708.9,843.8 L710.2,844.0 L711.5,844.2 L712.8,843.8 L714.1,844.6 L715.4,844.1 L716.7,845.0 L718.0,844.5 L719.3,844.5 L720.6,845.0 L721.9,844.5 L723.1,844.4 L724.4,844.3 L725.7,844.6 L727.0,844.6 L728.3,845.3 L729.6,844.9 L730.9,845.4 L732.2,844.9 L733.5,844.6 L734.8,845.0 L736.1,845.2 L737.4,846.0 L738.7,845.0 L740.0,845.3 L741.2,844.1 L742.5,843.4 L743.7,843.4 L745.0,842.5 L746.2,840.8 L747.5,840.5 L748.9,841.3 L750.2,841.7 L751.6,841.2 L752.9,841.8 L754.3,842.4 L755.6,841.6 L756.9,842.7 L758.3,842.9 L759.6,843.2 L761.0,842.9 L762.3,843.1 L763.7,843.3 L765.0,843.3 L766.2,843.5 L767.5,843.0 L768.7,843.1 L770.0,842.7 L771.2,842.8 L772.5,842.6 L773.7,843.2 L775.0,842.8 L776.2,843.2 L777.5,843.1 L778.7,843.0 L779.8,839.6 L780.9,836.4 L782.0,833.0 L783.2,827.0 L784.3,820.8 L785.5,814.7 L786.7,820.0 L787.8,825.5 L789.0,831.2 L790.5,835.2 L792.0,839.5 L793.4,840.5 L794.8,842.1 L796.1,842.0 L797.5,843.3 L798.7,843.2 L800.0,843.5 L801.2,842.5 L802.5,842.1 L803.7,842.5 L805.0,841.3 L806.2,841.3 L807.5,841.5 L808.7,841.5 L810.0,841.3 L811.2,840.4 L812.5,840.3 L813.8,840.5 L815.1,840.3 L816.4,840.6 L817.6,841.4 L818.9,841.8 L820.2,840.9 L821.5,840.8 L822.8,841.8 L824.1,842.2 L825.4,842.1 L826.6,841.7 L827.9,842.2 L829.2,842.4 L830.5,842.4 L831.8,842.2 L833.2,826.1 L834.5,812.9 L835.8,799.7 L837.2,805.3 L838.7,810.8 L840.1,816.5 L841.6,822.2 L842.8,818.0 L844.0,813.9 L845.2,809.8 L846.4,805.3 L847.6,807.7 L848.8,810.2 L850.0,812.6 L851.3,815.2 L852.5,817.9 L853.7,819.9 L855.0,819.8 L856.2,820.0 L857.5,819.8 L858.7,820.4 L860.0,819.8 L861.2,819.8 L862.5,819.6 L863.8,820.1 L865.2,821.1 L866.5,821.1 L867.9,822.4 L869.2,822.6 L870.6,823.5 L871.9,823.7 L873.3,824.0 L874.6,824.2 L876.0,824.3 L877.3,825.7 L878.7,826.3 L880.0,826.6 L881.3,826.7 L882.6,825.5 L884.0,826.2 L885.3,825.5 L886.6,825.5 L887.9,826.0 L889.3,825.1 L890.6,825.0 L891.9,824.3 L893.2,824.3 L894.6,824.2 L895.9,824.0 L897.2,824.2 L898.5,823.4 L899.9,823.3 L901.2,823.1 L902.5,823.6 L903.7,821.7 L905.0,818.9 L906.2,816.0 L907.5,813.0 L908.7,811.2 L910.0,807.0 L911.2,803.5 L912.5,800.7 L913.7,797.4 L915.0,800.4 L916.2,804.6 L917.5,807.3 L918.7,811.3 L920.0,811.9 L921.2,812.6 L922.5,813.3 L923.7,813.6 L925.0,813.3 L926.2,814.3 L927.5,814.8 L928.7,815.6 L930.0,815.5 L931.2,816.5 L932.5,816.6 L933.7,817.0 L935.0,818.0 L936.2,818.6 L937.5,818.4 L938.8,818.2 L940.0,818.2 L941.2,818.5 L942.5,818.7 L943.8,818.7 L945.0,818.9 L946.2,818.9 L947.5,819.1 L948.8,819.8 L950.0,819.8 L951.2,819.5 L952.5,819.5 L953.8,818.7 L955.0,817.5 L956.2,817.5 L957.5,817.2 L958.8,817.6 L960.0,817.4 L961.2,816.9 L962.5,817.5 L963.8,817.8 L965.0,818.1 L966.2,817.7 L967.5,817.4 L968.8,817.3 L970.0,818.0 L971.2,817.2 L972.5,815.1 L973.8,814.5 L975.0,813.4 L976.2,812.1 L977.5,810.5 L978.8,809.1 L980.0,808.2 L981.4,805.1 L982.8,802.8 L984.1,799.0 L985.5,796.2 L986.6,773.8 L987.7,751.0 L988.0,656.0 L988.3,578.0 L989.4,564.5 L990.5,550.4 L992.1,590.5 L993.7,631.1 L994.8,651.4 L995.9,671.6 L997.0,692.0 L998.1,695.5 L999.2,699.6 L1000.3,703.4 L1001.6,679.6 L1003.0,656.1 L1004.2,633.2 L1005.5,609.9 L1007.0,633.1 L1008.6,656.1 L1009.7,667.7 L1010.8,678.5 L1012.1,680.6 L1013.4,681.6 L1014.7,683.1 L1016.1,683.8 L1017.4,685.6 L1018.7,686.9 L1020.0,685.5 L1021.2,688.2 L1022.5,688.9 L1023.7,694.8 L1025.0,693.7 L1026.2,697.3 L1027.5,700.3 L1028.7,702.1 L1030.0,701.1 L1031.2,702.5 L1032.5,701.6 L1033.7,702.8 L1035.0,703.3 L1036.2,703.5 L1037.5,705.5 L1038.8,707.5 L1040.0,708.5 L1041.2,710.8 L1042.5,711.6 L1043.7,713.6 L1045.0,711.2 L1046.2,713.3 L1047.5,712.6 L1048.7,715.7 L1050.0,715.3 L1051.2,717.8 L1052.5,717.2 L1053.7,718.5 L1055.0,715.3 L1056.2,716.8 L1057.5,715.2 L1058.7,715.2 L1060.1,709.0 L1061.6,704.8 L1063.0,702.5 L1064.2,700.5 L1065.5,699.8 L1066.8,698.7 L1068.0,698.8 L1069.3,700.3 L1070.7,703.0 L1072.0,703.6 L1073.2,692.9 L1074.3,681.8 L1075.5,670.9 L1076.8,661.4 L1078.2,652.1 L1079.5,642.3 L1080.9,650.1 L1082.3,658.4 L1083.7,666.1 L1085.0,671.3 L1086.2,677.4 L1087.5,683.1 L1088.7,687.8 L1090.0,689.5 L1091.2,692.0 L1092.5,692.9 L1093.7,694.4 L1095.0,694.2 L1096.2,696.8 L1097.5,698.9 L1098.7,697.1 L1100.0,697.8 L1101.2,698.5 L1102.5,697.5 L1103.7,698.2 L1105.0,698.8 L1106.2,700.5 L1107.5,700.6 L1108.7,698.2 L1110.0,699.7 L1111.2,701.7 L1112.5,703.3 L1113.8,703.0 L1115.0,704.4 L1116.2,705.5 L1117.5,706.3 L1118.7,706.8 L1120.0,706.5 L1121.2,705.8 L1122.5,701.7 L1123.7,703.3 L1125.0,701.3 L1126.2,700.7 L1127.5,697.4 L1128.7,698.4 L1130.0,696.3 L1131.2,692.8 L1132.5,690.6 L1133.7,688.4 L1134.8,671.3 L1135.9,653.8 L1137.0,635.9 L1138.4,629.2 L1139.8,622.8 L1141.1,615.1 L1142.5,608.2 L1143.7,607.2 L1145.0,606.7 L1146.2,604.9 L1147.5,607.0 L1148.7,604.5 L1150.0,606.2 L1151.2,604.6 L1152.5,609.9 L1153.7,612.9 L1155.0,616.9 L1156.2,618.4 L1158.0,581.1 L1159.0,572.5 L1160.0,563.4 L1161.5,584.2 L1163.0,605.2 L1164.3,609.5 L1165.7,612.6 L1167.0,612.0 L1168.2,616.0 L1169.5,620.2 L1170.8,624.0 L1172.0,628.8 L1173.4,631.6 L1174.8,632.7 L1176.2,632.1 L1177.5,625.1 L1178.7,617.5 L1180.0,609.0 L1181.2,614.0 L1182.5,616.9 L1183.7,618.0 L1185.0,615.4 L1186.2,611.7 L1187.5,614.9 L1188.7,615.9 L1190.0,622.6 L1191.5,622.6 L1193.0,621.2 L1194.5,623.3 L1196.0,608.9 L1197.5,593.7 L1198.8,583.6 L1200.0,573.7 L1201.2,576.4 L1202.5,574.9 L1203.8,578.5 L1205.0,577.1 L1206.2,576.8 L1207.5,571.7 L1208.8,574.0 L1210.0,570.4 L1211.2,572.2 L1212.5,574.0 L1213.8,574.7 L1215.0,576.7 L1216.2,580.1 L1217.5,581.1 L1218.8,584.8 L1220.0,588.9 L1221.2,592.2 L1222.5,590.0 L1223.8,594.1 L1225.0,593.0 L1226.2,591.7 L1227.5,596.6 L1228.8,598.5 L1230.0,596.9 L1231.2,598.4 L1232.5,600.1 L1233.8,599.0 L1235.0,597.2 L1236.2,599.0 L1237.5,595.7 L1238.8,596.0 L1240.0,593.5 L1241.2,594.4 L1242.5,594.8 L1243.8,598.7 L1245.0,603.1 L1246.2,607.7 L1247.5,611.8 L1248.7,608.2 L1250.0,607.0 L1251.2,606.4 L1252.5,608.0 L1253.7,606.5 L1255.0,605.2 L1256.2,602.6 L1257.5,606.5 L1258.7,604.3 L1260.0,608.3 L1261.2,608.6 L1262.5,612.9 L1263.7,611.9 L1265.0,615.0 L1266.2,617.0 L1267.5,618.2 L1268.7,618.0 L1270.0,615.2 L1271.2,616.4 L1272.5,616.6 L1273.7,616.8 L1275.0,612.7 L1276.2,614.0 L1277.6,611.7 L1279.0,605.7 L1280.4,602.5 L1281.8,601.8 L1283.2,598.7 L1284.6,601.4 L1286.0,606.6 L1287.3,607.9 L1288.7,613.7 L1290.0,613.8 L1291.2,615.5 L1292.5,615.0 L1293.7,611.8 L1295.0,614.4 L1296.2,612.3 L1297.5,614.5 L1298.7,615.4 L1300.0,615.6 L1301.2,613.7 L1302.5,615.9 L1303.9,615.1 L1305.2,617.9 L1306.6,618.9 L1307.9,619.9 L1309.3,622.4 L1310.6,621.1 L1312.0,623.1 L1313.3,622.9 L1314.7,623.7 L1316.0,627.1 L1317.4,625.7 L1318.7,629.1 L1320.0,625.5 L1321.3,621.8 L1322.6,623.0 L1323.8,616.7 L1325.1,615.8 L1326.4,615.3 L1327.7,611.2 L1329.0,614.5 L1330.2,615.0 L1331.5,618.5 L1332.7,616.3 L1334.0,619.2 L1335.2,619.2 L1336.4,615.0 L1337.6,611.0 L1338.8,610.6 L1340.0,610.4 L1341.4,609.0 L1342.8,614.2 L1344.2,615.5 L1345.5,618.5 L1346.9,618.4 L1348.3,621.9 L1349.6,620.0 L1350.9,622.6 L1352.3,623.1 L1353.6,625.4 L1354.9,624.7 L1356.2,626.6 L1357.6,628.0 L1358.9,631.5 L1360.2,629.3 L1361.5,630.3 L1362.9,630.8 L1364.2,634.9 L1365.6,636.3 L1367.0,633.5 L1368.3,637.8 L1369.5,637.5 L1370.8,633.7 L1372.0,632.4 L1373.2,634.6 L1374.4,636.2 L1375.6,633.5 L1376.9,636.9 L1378.1,634.5 L1379.3,636.9 L1380.5,639.4 L1381.8,639.3 L1383.1,639.0 L1384.4,638.7 L1385.7,638.9 L1386.9,636.8 L1388.2,639.7 L1389.5,641.8 L1390.8,638.9 L1392.0,638.8 L1393.3,643.3 L1394.5,645.9 L1395.8,645.3 L1397.0,646.3 L1398.4,647.6 L1399.8,647.4 L1401.1,644.9 L1402.5,647.6 L1403.9,645.9 L1405.2,646.8 L1406.6,643.6 L1408.0,644.4 L1409.2,644.3 L1410.5,643.1 L1411.7,642.8 L1413.0,642.0 L1414.2,639.0 L1415.5,638.7 L1416.7,643.8 L1418.0,647.6 L1419.2,650.9 L1420.5,651.8 L1421.8,649.5 L1423.0,651.8 L1424.2,649.4 L1425.5,650.6 L1426.8,648.7 L1428.0,650.5 L1429.2,648.5 L1430.5,652.5 L1431.7,655.4 L1433.0,655.5 L1434.2,655.3 L1435.5,656.0 L1436.7,657.3 L1438.0,656.1 L1439.2,657.3 L1440.5,656.6 L1441.7,654.2 L1443.0,652.6 L1444.2,655.4 L1445.5,654.1 L1446.7,654.7 L1448.0,654.1 L1449.2,655.9 L1450.5,653.3 L1451.7,656.9 L1453.0,657.9 L1454.2,658.0 L1455.5,658.2 L1456.7,657.6 L1458.0,656.7 L1459.2,658.8 L1460.5,659.8 L1461.7,661.1 L1463.0,663.9 L1464.2,664.4 L1465.5,665.8 L1466.7,667.2 L1468.0,667.9 L1469.2,663.0 L1470.5,666.4 L1471.7,666.5 L1473.0,665.9 L1474.2,667.7 L1475.5,668.7 L1476.7,665.6 L1478.0,667.5 L1479.2,664.8 L1480.5,665.7 L1481.8,664.6 L1483.0,666.4 L1484.2,666.3 L1485.5,664.3 L1486.9,665.8 L1488.2,668.9 L1489.6,670.8 L1491.0,672.3 L1492.4,669.5 L1493.8,669.3 L1495.2,672.1 L1496.6,669.3 L1498.0,667.2 L1499.3,667.7 L1500.7,667.0 L1502.0,667.4 L1503.3,669.2 L1504.7,669.2 L1506.0,668.2 L1507.3,671.1 L1508.7,673.8 L1510.0,671.8 L1511.3,671.9 L1512.7,672.3 L1514.0,672.1 L1515.3,672.9 L1516.7,672.7 L1518.0,674.6 L1519.2,676.7 L1520.5,673.7 L1521.8,676.2 L1523.0,674.1 L1524.2,674.7 L1525.5,673.7 L1526.8,673.1 L1528.0,674.3 L1529.2,675.2 L1530.5,674.4 L1531.8,676.2 L1533.0,677.9 L1534.2,680.1 L1535.5,680.7 L1536.8,679.8 L1538.0,680.0 L1539.2,683.6 L1540.5,682.2 L1541.8,682.9 L1543.0,681.8 L1544.2,677.6 L1545.5,678.0 L1546.8,677.4 L1548.0,674.7 L1549.2,675.9 L1550.5,677.5 L1551.8,678.5 L1553.0,677.2 L1554.2,677.6 L1555.5,680.5 L1556.7,678.5 L1558.0,679.9 L1559.2,678.4 L1560.5,678.7 L1561.7,681.5 L1563.0,679.1 L1564.2,681.7 L1565.5,680.1 L1566.7,681.2 L1568.0,681.4 L1569.2,683.7 L1570.5,682.0 L1571.7,682.6 L1573.0,685.9 L1574.2,685.2 L1575.5,684.5 L1576.7,686.3 L1578.0,686.3 L1579.2,685.5 L1580.5,681.9 L1581.7,686.1 L1583.0,681.6 L1584.2,680.8 L1585.5,682.1 L1586.7,681.0 L1588.0,681.7 L1589.2,682.3 L1590.5,682.5 L1591.8,683.6 L1593.0,684.8 L1594.2,684.0 L1595.5,685.1 L1596.8,683.0 L1598.0,682.8 L1599.2,685.5 L1600.5,687.8 L1601.7,684.4 L1603.0,687.6 L1604.2,687.3 L1605.5,691.3 L1606.7,688.7 L1608.0,689.5 L1609.2,688.8 L1610.5,688.7 L1611.7,690.6 L1613.0,686.6 L1614.2,688.0 L1615.5,691.5 L1616.7,688.8 L1618.0,686.3 L1619.2,689.4 L1620.5,689.5 L1621.7,690.8 L1623.0,689.3 L1624.2,690.0 L1625.5,685.6 L1626.8,685.1 L1628.0,686.2 L1629.2,683.5 L1630.5,683.2 L1631.8,681.3 L1633.0,682.3 L1634.2,682.1 L1635.5,683.5 L1636.8,685.4 L1638.0,682.9 L1639.2,683.6 L1640.5,682.7 L1641.8,684.5 L1643.0,685.6 L1644.2,685.9 L1645.5,685.8 L1646.7,684.7 L1648.0,684.5 L1649.2,684.1 L1650.5,683.3 L1651.7,677.9 L1653.0,681.7 L1654.2,678.5 L1655.5,681.4 L1656.7,680.5 L1658.0,679.2 L1659.2,677.4 L1660.5,677.9 L1661.7,681.8 L1663.0,678.1 L1664.2,678.6 L1665.5,682.3 L1666.7,682.1 L1668.0,682.8 L1669.2,681.3 L1670.5,684.2 L1671.7,682.8 L1673.0,678.6 L1674.2,681.1 L1675.5,679.5 L1676.7,678.7 L1678.0,679.9 L1679.2,681.4 L1680.5,675.6 L1681.7,678.8 L1683.0,678.6 L1684.2,673.4 L1685.5,676.8 L1686.7,671.3 L1688.0,672.1 L1689.2,671.2 L1690.5,670.1 L1691.7,669.7 L1693.0,671.4 L1694.2,670.3 L1695.5,672.7 L1696.7,671.2 L1698.0,667.3 L1699.2,666.9 L1700.5,667.6 L1701.7,670.0 L1703.0,669.5 L1704.2,669.3 L1705.5,668.0 L1706.8,667.5 L1708.0,665.6 L1709.2,666.2 L1710.5,665.1 L1711.8,664.2 L1713.0,663.5 L1714.2,660.8 L1715.5,658.8 L1716.8,659.1 L1718.0,658.2 L1719.2,658.3 L1720.5,656.0 L1721.8,655.5 L1723.0,654.3 L1724.2,650.1 L1725.5,650.6 L1726.8,647.8 L1728.0,644.8 L1729.2,642.6 L1730.5,640.5 L1731.8,637.8 L1733.0,636.5 L1734.2,633.5 L1735.5,633.1 L1736.7,632.5 L1737.8,633.5 L1738.9,631.1 L1740.0,628.8" stroke="#0000e0" stroke-width="5.9"/>
<path d="M166.5,465.3 L167.7,466.1 L168.8,466.9 L170.0,467.1 L171.4,468.1 L172.8,469.2 L174.2,470.0 L175.6,469.9 L177.0,471.1 L178.3,471.6 L179.7,471.8 L181.0,472.8 L182.3,472.7 L183.7,473.0 L185.0,473.7 L186.3,473.7 L187.6,473.3 L189.0,473.3 L190.3,473.5 L191.6,473.0 L192.9,473.6 L194.3,473.8 L195.6,473.4 L196.9,473.9 L198.2,474.0 L199.6,473.6 L200.9,473.7 L202.2,473.0 L203.5,473.0 L204.9,474.1 L206.2,473.2 L207.5,473.4 L208.8,473.5 L210.0,472.9 L211.2,471.7 L212.5,471.5 L213.8,470.9 L215.0,470.5 L216.2,469.8 L217.5,469.9 L218.8,469.2 L220.0,468.9 L221.4,467.9 L222.8,467.0 L224.1,466.2 L225.5,466.0 L226.5,458.6 L227.5,451.0 L228.8,440.7 L230.0,430.5 L231.2,437.2 L232.5,444.1 L233.7,450.8 L235.0,452.0 L236.2,453.1 L237.5,454.6 L238.8,454.1 L240.0,453.0 L241.2,452.2 L242.5,451.2 L243.8,450.6 L245.0,449.8 L246.2,450.0 L247.5,450.2 L248.7,451.2 L250.0,451.6 L251.2,452.3 L252.5,451.1 L253.7,451.4 L255.0,449.7 L256.2,449.7 L257.5,449.0 L258.8,449.3 L260.0,450.6 L261.2,450.9 L262.5,450.8 L263.8,451.8 L265.0,452.5 L266.2,452.4 L267.5,453.3 L268.9,451.1 L270.3,448.8 L271.7,446.0 L273.1,443.4 L274.5,441.0 L275.8,441.7 L277.2,443.5 L278.5,444.7 L279.8,445.1 L281.2,445.6 L282.5,447.2 L283.8,448.6 L285.0,449.1 L286.2,449.9 L287.5,451.0 L288.8,452.7 L290.0,453.6 L291.2,452.8 L292.5,452.7 L293.8,452.4 L295.0,452.2 L296.2,451.5 L297.5,450.6 L298.8,450.5 L300.0,449.9 L301.2,450.9 L302.5,451.4 L303.8,452.0 L305.0,452.6 L306.2,453.7 L307.5,454.1 L308.8,454.3 L310.1,453.7 L311.4,453.6 L312.8,453.9 L314.1,454.3 L315.4,454.3 L316.7,453.9 L318.0,453.9 L319.3,454.9 L320.6,453.9 L321.9,454.9 L323.2,454.8 L324.6,454.6 L325.9,455.1 L327.2,454.8 L328.5,454.0 L329.8,455.2 L331.1,454.6 L332.4,455.2 L333.8,455.1 L335.1,454.4 L336.4,454.3 L337.7,454.3 L339.0,455.2 L340.3,455.3 L341.6,454.6 L342.9,454.5 L344.2,454.9 L345.6,455.4 L346.9,455.4 L348.2,455.6 L349.5,455.8 L350.8,455.5 L352.1,455.7 L353.4,454.7 L354.8,454.8 L356.1,455.8 L357.4,455.6 L358.7,455.3 L360.0,455.3 L361.3,455.3 L362.6,455.4 L363.9,455.6 L365.3,455.5 L366.6,455.3 L367.9,455.2 L369.2,455.3 L370.5,455.3 L371.8,455.3 L373.2,455.7 L374.5,455.3 L375.8,456.2 L377.1,455.9 L378.4,455.8 L379.7,456.1 L381.1,455.6 L382.4,455.4 L383.7,455.5 L385.0,455.8 L386.3,455.9 L387.6,455.8 L388.9,455.8 L390.3,456.5 L391.6,455.5 L392.9,456.1 L394.2,456.0 L395.5,455.9 L396.8,456.5 L398.2,455.9 L399.5,455.7 L400.8,455.9 L402.1,456.9 L403.4,456.2 L404.7,455.9 L406.1,457.0 L407.4,456.6 L408.7,457.0 L410.0,456.4 L411.3,456.9 L412.6,455.9 L413.9,456.2 L415.3,456.9 L416.6,456.5 L417.9,456.8 L419.2,456.4 L420.5,457.0 L421.8,456.0 L423.2,456.6 L424.5,456.1 L425.8,456.1 L427.1,457.0 L428.4,456.4 L429.7,456.9 L431.1,456.2 L432.4,456.8 L433.7,457.0 L435.0,456.6 L436.2,456.1 L437.5,456.6 L438.8,456.9 L440.0,456.6 L441.2,456.1 L442.5,456.0 L443.8,455.6 L445.0,456.1 L446.5,454.6 L448.0,453.7 L449.5,452.8 L451.0,453.9 L452.5,455.5 L454.0,457.0 L455.3,456.6 L456.6,456.9 L457.9,457.3 L459.2,456.5 L460.5,456.6 L461.8,457.1 L463.1,457.5 L464.4,457.5 L465.7,457.1 L467.0,456.6 L468.3,457.5 L469.6,457.6 L470.9,457.5 L472.2,457.1 L473.5,456.9 L474.8,457.2 L476.1,457.4 L477.4,457.7 L478.7,457.1 L480.0,457.1 L481.3,456.9 L482.7,457.2 L484.0,457.2 L485.3,456.9 L486.6,457.1 L487.9,457.6 L489.2,456.8 L490.5,456.8 L491.8,456.9 L493.1,457.6 L494.4,456.9 L495.7,457.5 L497.0,457.7 L498.3,457.6 L499.6,457.5 L500.9,456.8 L502.2,457.1 L503.5,457.6 L504.8,456.9 L506.1,457.3 L507.4,457.6 L508.7,457.7 L510.0,457.1 L511.3,456.8 L512.6,456.7 L513.9,457.0 L515.2,457.3 L516.5,457.0 L517.8,457.7 L519.1,457.5 L520.4,457.5 L521.7,457.8 L523.0,457.2 L524.3,457.6 L525.6,457.2 L526.9,457.2 L528.2,457.0 L529.5,457.8 L530.8,458.0 L532.1,457.0 L533.4,457.8 L534.7,457.0 L536.0,457.5 L537.3,457.4 L538.6,458.1 L539.9,457.5 L541.2,457.7 L542.5,457.5 L543.8,457.4 L545.1,457.4 L546.4,457.2 L547.7,457.2 L549.0,457.8 L550.3,458.1 L551.6,458.0 L552.9,457.5 L554.2,458.4 L555.5,457.3 L556.8,457.8 L558.1,457.7 L559.4,457.5 L560.7,458.5 L562.0,458.2 L563.3,457.5 L564.6,457.6 L565.9,458.4 L567.2,457.9 L568.5,457.8 L569.8,457.8 L571.1,457.9 L572.4,458.2 L573.7,457.9 L575.0,458.2 L576.3,457.6 L577.6,458.2 L578.9,458.3 L580.2,458.0 L581.5,458.7 L582.8,458.8 L584.1,458.4 L585.4,458.2 L586.7,457.9 L588.0,458.5 L589.3,458.1 L590.6,457.9 L591.9,458.4 L593.2,458.0 L594.5,458.6 L595.8,458.7 L597.1,457.9 L598.4,458.6 L599.7,458.1 L601.0,458.4 L602.3,458.8 L603.6,459.1 L604.9,458.3 L606.2,458.9 L607.5,458.4 L608.8,459.1 L610.1,458.2 L611.4,458.9 L612.7,458.2 L614.0,458.8 L615.3,459.0 L616.6,459.2 L617.9,459.1 L619.2,458.8 L620.5,458.7 L621.8,459.0 L623.2,459.0 L624.5,459.0 L625.8,459.1 L627.1,459.2 L628.4,459.4 L629.7,459.1 L631.0,459.4 L632.3,459.3 L633.6,458.9 L634.9,459.4 L636.2,458.9 L637.5,459.5 L638.8,459.5 L640.1,459.6 L641.4,459.6 L642.7,459.4 L644.0,459.2 L645.3,458.9 L646.6,459.4 L647.9,459.7 L649.2,459.1 L650.5,458.9 L651.8,459.6 L653.1,459.8 L654.4,459.0 L655.7,458.9 L657.0,458.9 L658.3,459.5 L659.6,459.8 L660.9,459.1 L662.2,459.8 L663.5,458.9 L664.8,459.1 L666.2,459.6 L667.5,459.8 L668.8,459.5 L670.1,459.8 L671.4,459.4 L672.7,459.5 L674.0,459.7 L675.3,459.1 L676.6,459.3 L677.9,459.5 L679.2,459.9 L680.5,459.4 L681.8,459.4 L683.1,460.4 L684.4,460.0 L685.7,459.7 L687.0,460.2 L688.3,460.1 L689.6,460.3 L690.9,460.0 L692.2,460.1 L693.5,459.5 L694.8,459.9 L696.1,459.8 L697.4,459.7 L698.7,459.9 L700.0,460.5 L701.3,459.7 L702.6,459.6 L703.9,459.9 L705.2,459.7 L706.5,459.6 L707.8,460.7 L709.2,460.2 L710.5,459.6 L711.8,460.3 L713.1,459.8 L714.4,460.2 L715.7,460.8 L717.0,460.9 L718.3,460.2 L719.6,460.7 L720.9,460.4 L722.2,459.9 L723.5,460.3 L724.8,460.8 L726.1,460.8 L727.4,460.7 L728.7,461.1 L730.0,460.4 L731.4,460.6 L732.8,460.7 L734.1,460.7 L735.5,460.5 L736.9,460.4 L738.2,459.7 L739.6,459.7 L741.0,459.8 L742.3,458.1 L743.6,457.1 L744.9,456.0 L746.2,454.9 L747.4,455.8 L748.6,457.5 L749.8,458.3 L751.0,459.5 L752.3,460.1 L753.6,460.2 L755.0,459.4 L756.3,459.9 L757.6,459.2 L759.0,459.4 L760.3,459.3 L761.6,459.9 L762.9,459.8 L764.2,460.1 L765.6,459.9 L766.9,460.0 L768.2,460.1 L769.5,459.8 L770.9,459.4 L772.2,459.3 L773.5,460.1 L774.9,460.1 L776.2,459.9 L777.5,459.9 L779.0,458.8 L780.5,457.1 L782.0,456.0 L783.4,437.0 L784.5,427.9 L785.5,418.5 L786.5,427.6 L787.6,437.0 L789.4,453.0 L790.8,454.2 L792.2,455.0 L793.6,455.7 L795.0,455.8 L796.2,455.4 L797.5,455.8 L798.8,455.2 L800.0,454.8 L801.2,455.3 L802.5,453.9 L803.8,454.2 L805.0,454.5 L806.2,454.0 L807.5,454.0 L808.8,453.0 L810.0,453.0 L811.3,453.6 L812.5,452.6 L813.8,453.0 L815.1,453.7 L816.3,452.7 L817.6,453.5 L818.9,453.5 L820.1,452.9 L821.4,453.9 L822.6,453.6 L823.9,452.9 L825.2,453.9 L826.4,453.8 L827.7,453.4 L829.0,452.9 L830.2,453.8 L831.5,453.5 L833.4,436.0 L835.0,425.2 L836.6,414.7 L837.8,419.5 L838.9,424.2 L840.1,428.7 L841.2,433.4 L842.6,430.9 L844.0,428.5 L845.4,426.6 L846.8,423.7 L848.2,424.9 L849.6,427.6 L850.9,429.1 L852.3,431.9 L853.7,433.5 L855.0,434.1 L856.2,434.3 L857.5,434.4 L858.7,433.6 L860.0,433.6 L861.2,434.6 L862.5,434.4 L863.7,434.9 L865.0,434.7 L866.2,434.9 L867.5,435.6 L868.8,435.5 L870.0,436.0 L871.2,436.2 L872.5,436.8 L873.8,436.4 L875.0,437.2 L876.2,437.6 L877.5,438.1 L878.8,438.7 L880.0,438.4 L881.3,438.9 L882.6,438.4 L884.0,437.9 L885.3,438.0 L886.6,437.6 L887.9,437.8 L889.3,436.9 L890.6,437.8 L891.9,437.0 L893.2,436.4 L894.6,436.4 L895.9,436.5 L897.2,436.3 L898.5,436.8 L899.9,436.1 L901.2,436.6 L902.5,435.9 L903.9,434.1 L905.2,433.0 L906.6,431.2 L908.0,429.2 L909.2,426.8 L910.5,425.1 L911.8,424.1 L913.0,422.1 L914.4,423.4 L915.8,425.0 L917.2,427.0 L918.6,428.6 L920.0,430.6 L921.2,431.4 L922.5,430.8 L923.8,431.9 L925.0,432.0 L926.2,432.7 L927.5,433.2 L928.8,433.4 L930.0,432.9 L931.2,433.9 L932.5,434.3 L933.8,434.2 L935.0,434.5 L936.3,435.1 L937.7,435.0 L939.0,435.3 L940.3,435.4 L941.7,435.4 L943.0,434.7 L944.3,435.8 L945.7,435.9 L947.0,435.3 L948.3,435.9 L949.7,436.2 L951.0,435.7 L952.3,435.6 L953.7,436.0 L955.0,436.1 L956.2,435.8 L957.5,436.0 L958.8,436.2 L960.0,435.4 L961.2,436.0 L962.5,434.9 L963.8,435.4 L965.0,435.5 L966.2,434.9 L967.5,434.7 L968.8,434.5 L970.0,434.6 L971.2,433.5 L972.5,432.4 L973.8,431.1 L975.0,430.5 L976.2,428.9 L977.5,427.9 L978.8,427.0 L980.0,426.2 L981.4,423.2 L982.8,420.6 L984.1,418.8 L985.5,416.0 L986.6,394.7 L987.7,374.1 L988.0,280.9 L988.3,219.0 L989.5,205.7 L990.6,192.9 L992.2,227.3 L993.7,262.0 L994.8,278.2 L995.9,294.2 L997.0,309.9 L998.3,313.7 L999.5,317.7 L1000.8,321.5 L1002.0,304.4 L1003.1,286.9 L1004.4,261.4 L1005.7,236.4 L1007.2,257.5 L1008.7,277.9 L1010.0,289.4 L1011.2,300.4 L1012.5,303.5 L1013.7,303.7 L1015.0,305.8 L1016.2,304.4 L1017.5,308.6 L1018.7,308.3 L1020.0,308.8 L1021.2,313.8 L1022.5,313.5 L1023.7,317.1 L1025.0,317.8 L1026.2,319.0 L1027.5,319.9 L1028.8,320.6 L1030.0,322.7 L1031.2,321.5 L1032.5,324.5 L1033.8,322.5 L1035.0,326.2 L1036.2,324.5 L1037.5,326.3 L1038.7,328.8 L1040.0,329.2 L1041.2,331.0 L1042.5,329.4 L1043.7,333.9 L1045.0,331.8 L1046.2,335.0 L1047.5,336.3 L1048.7,336.4 L1050.0,336.6 L1051.2,336.5 L1052.5,338.3 L1053.7,335.8 L1055.0,337.8 L1056.2,336.5 L1057.5,332.3 L1058.8,331.5 L1060.0,329.5 L1061.2,326.6 L1062.5,326.5 L1063.7,326.6 L1065.0,325.5 L1066.2,322.1 L1067.5,324.0 L1068.7,324.0 L1070.0,322.5 L1071.2,321.1 L1072.6,311.3 L1074.1,301.2 L1075.5,291.1 L1076.8,281.3 L1078.2,272.0 L1079.5,262.1 L1080.9,270.0 L1082.3,277.9 L1083.7,285.9 L1085.0,290.7 L1086.2,295.7 L1087.5,300.8 L1088.7,305.8 L1090.0,310.3 L1091.2,313.3 L1092.5,315.1 L1093.8,314.7 L1095.0,317.6 L1096.2,319.6 L1097.5,319.0 L1098.8,319.9 L1100.0,319.8 L1101.2,318.1 L1102.5,320.7 L1103.8,320.2 L1105.0,319.1 L1106.2,319.0 L1107.5,320.0 L1108.8,317.0 L1110.0,319.1 L1111.2,319.6 L1112.5,319.8 L1113.7,320.6 L1115.0,322.7 L1116.2,322.9 L1117.5,323.2 L1118.7,320.2 L1120.0,320.5 L1121.2,319.2 L1122.5,316.4 L1123.8,314.8 L1125.0,315.5 L1126.2,317.1 L1127.5,318.4 L1128.8,317.5 L1130.0,317.2 L1131.3,312.0 L1132.7,306.4 L1134.0,301.0 L1135.4,278.5 L1136.8,256.2 L1138.1,250.4 L1139.4,244.1 L1140.7,238.9 L1142.0,232.8 L1143.3,230.8 L1144.6,231.8 L1145.9,230.1 L1147.3,233.0 L1148.6,228.7 L1149.9,229.8 L1151.2,228.0 L1152.6,228.0 L1154.0,229.8 L1155.4,229.0 L1156.8,229.1 L1158.4,219.3 L1160.0,209.5 L1161.5,222.5 L1163.0,236.8 L1164.5,240.1 L1166.0,240.3 L1167.5,246.7 L1168.7,246.1 L1170.0,249.1 L1171.2,252.0 L1172.5,254.9 L1173.7,254.0 L1175.0,251.2 L1176.2,249.8 L1177.5,248.1 L1178.7,244.5 L1180.0,242.6 L1181.2,246.3 L1182.5,243.4 L1183.7,247.0 L1184.8,247.0 L1185.9,245.4 L1187.0,243.1 L1188.3,243.6 L1189.7,245.5 L1191.0,249.8 L1192.4,252.9 L1193.7,253.6 L1195.0,244.4 L1196.2,234.8 L1197.5,226.1 L1199.0,214.5 L1200.5,202.6 L1201.9,199.9 L1203.2,200.4 L1204.6,199.4 L1205.9,199.2 L1207.3,197.5 L1208.6,196.7 L1210.0,195.8 L1211.2,194.7 L1212.5,198.6 L1213.7,198.7 L1215.0,200.2 L1216.2,199.7 L1217.5,200.4 L1218.7,201.7 L1220.0,205.0 L1221.2,206.3 L1222.5,212.5 L1223.7,212.4 L1225.0,216.8 L1226.2,220.4 L1227.5,220.1 L1228.8,220.2 L1230.0,224.3 L1231.2,222.9 L1232.5,218.9 L1233.7,219.4 L1235.0,218.3 L1236.2,216.8 L1237.5,217.9 L1238.7,214.4 L1240.0,212.5 L1241.2,214.2 L1242.5,216.1 L1243.7,217.9 L1245.0,222.1 L1246.2,223.4 L1247.5,225.4 L1248.8,223.0 L1250.0,222.1 L1251.2,221.4 L1252.5,221.2 L1253.8,220.9 L1255.0,219.1 L1256.2,221.8 L1257.5,225.5 L1258.7,226.3 L1260.0,224.4 L1261.2,228.5 L1262.5,231.1 L1263.7,231.3 L1265.0,235.6 L1266.2,235.4 L1267.5,235.2 L1268.7,235.9 L1270.0,237.4 L1271.2,237.1 L1272.5,238.7 L1273.7,236.4 L1275.0,233.4 L1276.2,231.9 L1277.5,227.7 L1278.7,228.3 L1280.0,224.3 L1281.2,223.0 L1282.5,222.5 L1283.7,226.3 L1285.0,225.5 L1286.2,226.9 L1287.5,227.3 L1288.7,228.4 L1290.0,228.1 L1291.2,228.3 L1292.5,231.6 L1293.7,231.4 L1295.0,227.8 L1296.2,226.3 L1297.5,225.9 L1298.7,226.6 L1300.0,222.7 L1301.2,221.7 L1302.5,223.3 L1303.7,225.1 L1305.0,227.2 L1306.2,227.2 L1307.5,229.0 L1308.7,232.0 L1310.0,234.2 L1311.2,233.3 L1312.5,236.6 L1313.7,236.7 L1315.0,242.7 L1316.2,241.7 L1317.5,242.8 L1318.7,237.7 L1320.0,236.1 L1321.2,235.2 L1322.5,233.5 L1323.7,232.0 L1325.0,230.7 L1326.2,229.5 L1327.5,228.1 L1328.7,231.1 L1330.0,231.7 L1331.2,229.7 L1332.5,229.7 L1333.7,229.5 L1335.0,231.6 L1336.4,231.3 L1337.7,230.8 L1339.1,231.3 L1340.4,229.7 L1341.8,225.4 L1343.1,224.8 L1344.5,224.4 L1345.8,224.7 L1347.0,226.4 L1348.2,230.8 L1349.5,234.8 L1350.8,236.8 L1352.0,233.9 L1353.2,236.9 L1354.5,239.7 L1355.7,241.5 L1356.9,237.5 L1358.1,238.9 L1359.4,240.8 L1360.6,240.1 L1361.8,236.9 L1363.0,238.2 L1364.3,240.3 L1365.6,238.8 L1366.9,243.7 L1368.2,244.0 L1369.5,244.1 L1370.7,242.8 L1371.9,240.9 L1373.2,244.2 L1374.4,239.9 L1375.6,240.9 L1376.9,243.1 L1378.1,244.0 L1379.4,246.4 L1380.7,245.1 L1381.9,248.5 L1383.2,247.6 L1384.5,251.5 L1385.7,253.1 L1387.0,253.1 L1388.3,254.4 L1389.5,254.1 L1390.8,250.9 L1392.1,251.9 L1393.4,251.9 L1394.6,254.3 L1395.9,255.0 L1397.2,252.1 L1398.5,255.6 L1399.7,252.0 L1401.0,253.4 L1402.3,255.3 L1403.6,252.6 L1404.9,255.6 L1406.1,251.6 L1407.4,253.0 L1408.7,255.8 L1410.0,254.5 L1411.2,250.4 L1412.5,250.4 L1413.8,248.7 L1415.0,245.8 L1416.2,252.3 L1417.5,251.2 L1418.8,259.1 L1420.0,260.8 L1421.3,261.3 L1422.7,260.1 L1424.0,259.6 L1425.3,261.0 L1426.6,263.5 L1428.0,259.4 L1429.3,261.4 L1430.6,262.2 L1431.9,264.2 L1433.2,263.0 L1434.6,264.4 L1435.9,263.4 L1437.2,262.2 L1438.5,264.9 L1439.9,260.5 L1441.2,263.5 L1442.5,261.6 L1443.7,262.9 L1445.0,263.8 L1446.2,266.7 L1447.5,269.5 L1448.7,269.6 L1450.0,269.7 L1451.4,268.6 L1452.7,268.3 L1454.1,269.2 L1455.4,268.7 L1456.8,269.7 L1458.1,270.5 L1459.5,267.8 L1460.8,272.1 L1462.2,268.2 L1463.5,272.1 L1464.9,267.9 L1466.2,269.4 L1467.5,273.3 L1468.9,270.7 L1470.2,271.5 L1471.6,274.0 L1472.9,271.1 L1474.3,274.3 L1475.6,276.2 L1477.0,274.8 L1478.3,273.1 L1479.7,274.3 L1481.0,277.4 L1482.3,274.1 L1483.6,275.6 L1484.8,274.3 L1486.1,274.0 L1487.4,271.9 L1488.6,273.9 L1489.8,277.3 L1491.0,278.3 L1492.3,276.4 L1493.5,275.5 L1494.8,277.9 L1496.0,277.8 L1497.3,278.1 L1498.6,276.1 L1499.8,279.4 L1501.1,277.3 L1502.3,276.3 L1503.6,275.9 L1504.9,275.7 L1506.3,276.8 L1507.6,279.5 L1508.9,278.8 L1510.2,281.5 L1511.6,279.7 L1512.9,283.0 L1514.2,284.3 L1515.5,283.4 L1516.9,284.7 L1518.2,282.9 L1519.5,284.4 L1520.8,284.7 L1522.2,285.4 L1523.5,287.5 L1524.8,285.1 L1526.0,287.7 L1527.2,285.9 L1528.5,282.9 L1529.8,283.1 L1531.0,282.5 L1532.2,282.0 L1533.5,282.5 L1534.8,283.0 L1536.0,283.1 L1537.2,284.2 L1538.5,283.8 L1539.8,283.5 L1541.0,285.5 L1542.2,288.3 L1543.5,289.0 L1544.8,285.9 L1546.0,289.3 L1547.2,289.9 L1548.5,288.7 L1549.7,289.9 L1551.0,286.2 L1552.2,285.1 L1553.5,285.8 L1554.7,283.4 L1556.0,287.1 L1557.2,284.6 L1558.5,285.3 L1559.7,284.0 L1561.0,284.9 L1562.2,285.0 L1563.5,287.8 L1564.7,289.0 L1566.0,290.4 L1567.2,289.1 L1568.5,289.3 L1569.7,290.4 L1571.0,292.7 L1572.4,289.6 L1573.7,288.2 L1575.0,290.7 L1576.4,292.6 L1577.7,289.1 L1579.1,290.2 L1580.4,291.7 L1581.7,291.8 L1583.1,290.4 L1584.4,292.6 L1585.7,293.0 L1587.1,292.5 L1588.4,292.3 L1589.7,289.2 L1590.9,289.9 L1592.2,289.3 L1593.4,288.0 L1594.7,288.1 L1595.9,290.0 L1597.2,288.4 L1598.4,286.0 L1599.7,288.6 L1600.9,289.4 L1602.2,288.5 L1603.4,290.0 L1604.7,289.9 L1605.9,292.7 L1607.1,292.9 L1608.4,289.9 L1609.6,288.6 L1610.9,287.2 L1612.1,289.8 L1613.4,285.1 L1614.6,285.2 L1615.8,285.4 L1617.1,288.2 L1618.3,291.1 L1619.5,292.9 L1620.8,293.0 L1622.0,294.9 L1623.3,292.5 L1624.7,294.1 L1626.0,292.0 L1627.4,291.0 L1628.7,291.3 L1630.1,289.9 L1631.4,291.5 L1632.7,288.8 L1634.1,291.1 L1635.4,290.7 L1636.8,286.7 L1638.1,288.1 L1639.5,289.0 L1640.8,288.1 L1642.0,288.8 L1643.3,286.2 L1644.5,290.3 L1645.8,287.7 L1647.0,287.5 L1648.3,290.8 L1649.5,288.7 L1650.8,286.3 L1652.0,284.7 L1653.3,284.7 L1654.5,284.3 L1655.8,283.2 L1657.0,287.2 L1658.2,288.5 L1659.5,291.0 L1660.8,289.5 L1662.2,287.8 L1663.5,289.5 L1664.9,286.6 L1666.2,286.2 L1667.6,289.8 L1669.0,287.7 L1670.3,286.2 L1671.7,285.1 L1673.0,284.4 L1674.4,285.3 L1675.7,285.1 L1677.0,285.8 L1678.2,281.7 L1679.5,279.5 L1680.7,278.3 L1682.0,276.2 L1683.2,276.6 L1684.5,276.1 L1685.8,275.1 L1687.0,276.0 L1688.2,278.0 L1689.5,274.5 L1690.8,277.1 L1692.0,278.7 L1693.2,277.0 L1694.5,276.4 L1695.8,278.4 L1697.0,277.1 L1698.4,274.7 L1699.8,272.0 L1701.1,275.4 L1702.5,272.0 L1703.9,270.3 L1705.2,267.7 L1706.6,267.7 L1708.0,268.5 L1709.2,267.7 L1710.5,264.7 L1711.8,266.9 L1713.0,266.2 L1714.2,262.0 L1715.5,263.8 L1716.8,261.6 L1718.0,261.4 L1719.3,258.9 L1720.6,258.6 L1721.9,254.7 L1723.1,257.5 L1724.4,251.8 L1725.7,254.4 L1727.0,249.5 L1728.2,248.9 L1729.5,247.1 L1730.7,249.6 L1731.9,245.3 L1733.1,247.5 L1734.3,243.2 L1735.6,240.9 L1736.8,241.5 L1738.4,238.1 L1740.0,238.9" stroke="#f00000" stroke-width="5.9"/>
</g>
<text id="t0" transform="translate(166.90,1362.9) scale(0.965,1)" font-size="71.5" text-anchor="middle" stroke="#fff" stroke-width="0.9" paint-order="fill">0</text>
<text id="t300" transform="translate(516.15,1362.9) scale(0.965,1)" font-size="71.5" text-anchor="middle" stroke="#fff" stroke-width="0.9" paint-order="fill">300</text>
<text id="t600" transform="translate(865.80,1362.9) scale(0.965,1)" font-size="71.5" text-anchor="middle" stroke="#fff" stroke-width="0.9" paint-order="fill">600</text>
<text id="t900" transform="translate(1214.50,1362.9) scale(0.965,1)" font-size="71.5" text-anchor="middle" stroke="#fff" stroke-width="0.9" paint-order="fill">900</text>
<text id="t1200" transform="translate(1563.30,1362.9) scale(0.965,1)" font-size="71.5" text-anchor="middle" stroke="#fff" stroke-width="0.9" paint-order="fill">1200</text>
<text id="xl" class="b" transform="translate(953.4,1421.0) scale(1.023,1)" font-size="68.3" text-anchor="middle" stroke="#fff" stroke-width="0.7" paint-order="fill">Binding Energy (eV)</text>
<text id="yl" class="b" transform="translate(68.5,631.3) rotate(-90) scale(1.026,1)" font-size="69.8" text-anchor="middle" stroke="#fff" stroke-width="0.7" paint-order="fill">Intensity (a.u.)</text>
<text id="p40" class="b" stroke="url(#bg)" stroke-width="0.7" paint-order="fill" x="175.2" y="421.2" font-size="54">40%</text>
<text id="p20" class="b" stroke="url(#bg)" stroke-width="0.7" paint-order="fill" x="174.2" y="804.0" font-size="54">20%</text>
<text id="p0" class="b" stroke="url(#bg)" stroke-width="0.7" paint-order="fill" x="174.6" y="1190.8" font-size="54">0%</text>
<text id="lo" class="b" transform="translate(803.6,365.0) rotate(-90) scale(1.03,1)" font-size="54.0" text-anchor="middle" stroke="#edf6ce" stroke-width="0.7" paint-order="fill">O 1s</text>
<text id="lcr" class="b" transform="translate(851.0,342.15) rotate(-90) scale(1.04,1)" font-size="54.5" text-anchor="middle" stroke="#eef5cc" stroke-width="0.7" paint-order="fill">Cr 2p</text>
<text id="lfe" class="b" transform="translate(1006.3,118.9) rotate(-90) scale(1.012,1)" font-size="54.5" text-anchor="middle" stroke="#f5f4c3" stroke-width="0.7" paint-order="fill">Fe 2p</text>
<text id="lni" class="b" transform="translate(1177.4,147.2) rotate(-90) scale(1.015,1)" font-size="55" text-anchor="middle" stroke="#f4f4c4" stroke-width="0.7" paint-order="fill">Ni 2p</text>
</svg>
</body></html>
